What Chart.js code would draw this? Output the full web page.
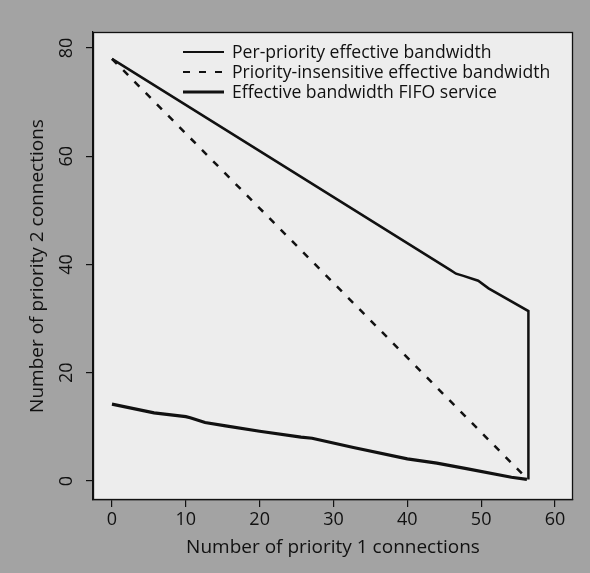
<!DOCTYPE html>
<html>
<head>
<meta charset="utf-8">
<script src="https://cdn.jsdelivr.net/npm/chart.js@4/dist/chart.umd.min.js"></script>
<style>
html,body{margin:0;padding:0;background:#a3a3a3;}
#wrap{width:590px;height:573px;position:relative;}
</style>
</head>
<body>
<div id="wrap"><canvas id="c" width="590" height="573"></canvas></div>
<script>
// ---- data ----
const xTickValues = [0, 10, 20, 30, 40, 50, 60];
const yTickValues = [0, 20, 40, 60, 80];

const seriesNames = [
  "Per-priority effective bandwidth",
  "Priority-insensitive effective bandwidth",
  "Effective bandwidth FIFO service"
];

const perPriorityX = [0, 45.8, 46.6, 47.6, 49.6, 51.0, 56.4, 56.4];
const perPriorityY = [78, 39.0, 38.3, 37.9, 37.0, 35.6, 31.4, 0.3];

const insensitiveX = [0, 56.3];
const insensitiveY = [78, 0.3];

const fifoX = [0, 5.7, 10, 10.6, 12.6, 15.4, 20, 25.6, 27.1, 32.7, 40, 44, 48, 54.1, 56.2];
const fifoY = [14.2, 12.6, 11.9, 11.7, 10.8, 10.2, 9.2, 8.1, 7.9, 6.2, 4.1, 3.3, 2.3, 0.7, 0.3];

const xTitle = "Number of priority 1 connections";
const yTitle = "Number of priority 2 connections";

function toPoints(xs, ys){ return xs.map((x,i)=>({x:x, y:ys[i]})); }

const FONT = "'Open Sans', 'Noto Sans', sans-serif";

const bgPlugin = {
  id: 'bg',
  beforeDraw(chart){
    const ctx = chart.ctx, a = chart.chartArea;
    ctx.save();
    ctx.fillStyle = '#a3a3a3';
    ctx.fillRect(0,0,chart.width,chart.height);
    ctx.fillStyle = '#ededed';
    ctx.fillRect(a.left,a.top,a.right-a.left,a.bottom-a.top);
    ctx.restore();
  },
  afterDraw(chart){
    const ctx = chart.ctx, a = chart.chartArea;
    ctx.save();
    ctx.strokeStyle = '#111';
    ctx.lineWidth = 1.3;
    ctx.strokeRect(a.left+0.5,a.top+0.5,a.right-a.left-1,a.bottom-a.top-1);
    // legend
    const rows = [52, 72, 92];
    ctx.font = "17.6px " + FONT;
    ctx.textBaseline = 'middle';
    ctx.textAlign = 'left';
    chart.data.datasets.forEach((ds,i)=>{
      const y = rows[i];
      ctx.beginPath();
      ctx.setLineDash(ds.borderDash || []);
      ctx.lineWidth = i === 2 ? 3 : 2;
      ctx.strokeStyle = ds.borderColor;
      ctx.moveTo(183,y); ctx.lineTo(224,y);
      ctx.stroke();
      ctx.setLineDash([]);
      ctx.fillStyle = '#111';
      ctx.fillText(ds.label, 232, y+1);
    });
    ctx.restore();
  }
};

new Chart(document.getElementById('c'), {
  type: 'scatter',
  data: {
    datasets: [
      { label: seriesNames[0], data: toPoints(perPriorityX, perPriorityY),
        showLine: true, borderColor: '#111', borderWidth: 2.5, pointRadius: 0, tension: 0, fill: false },
      { label: seriesNames[1], data: toPoints(insensitiveX, insensitiveY),
        showLine: true, borderColor: '#111', borderWidth: 2.5, borderDash: [7, 9], pointRadius: 0, tension: 0, fill: false },
      { label: seriesNames[2], data: toPoints(fifoX, fifoY),
        showLine: true, borderColor: '#111', borderWidth: 3.2, pointRadius: 0, tension: 0, fill: false }
    ]
  },
  options: {
    responsive: false,
    animation: false,
    layout: { padding: { left: 0, top: 32, right: 17, bottom: 0 } },
    plugins: { legend: { display: false }, tooltip: { enabled: false } },
    scales: {
      x: {
        type: 'linear', min: -2.57, max: 62.44,
        afterBuildTicks(s){ s.ticks = xTickValues.map(v=>({value:v})); },
        afterFit(s){ s.height = 73; },
        grid: { drawOnChartArea: false, drawTicks: true, tickLength: 7, color: '#111', lineWidth: 1.2 },
        border: { display: true, color: '#111', width: 1.2 },
        ticks: { color: '#111', font: { family: FONT, size: 18 }, padding: 2, maxRotation: 0, minRotation: 0 },
        title: { display: true, text: xTitle, color: '#111', font: { family: FONT, size: 19 }, padding: { top: 0, bottom: 14 } }
      },
      y: {
        type: 'linear', min: -3.51, max: 82.96,
        afterBuildTicks(s){ s.ticks = yTickValues.map(v=>({value:v})); },
        afterFit(s){ s.width = 93; },
        grid: { drawOnChartArea: false, drawTicks: true, tickLength: 7, color: '#111', lineWidth: 1.2 },
        border: { display: true, color: '#111', width: 1.2 },
        ticks: { color: '#111', font: { family: FONT, size: 18 }, padding: 9, minRotation: 90, maxRotation: 90, crossAlign: 'center' },
        title: { display: true, text: yTitle, color: '#111', font: { family: FONT, size: 19 }, padding: { top: 26, bottom: 0 } }
      }
    }
  },
  plugins: [bgPlugin]
});
</script>
</body>
</html>
